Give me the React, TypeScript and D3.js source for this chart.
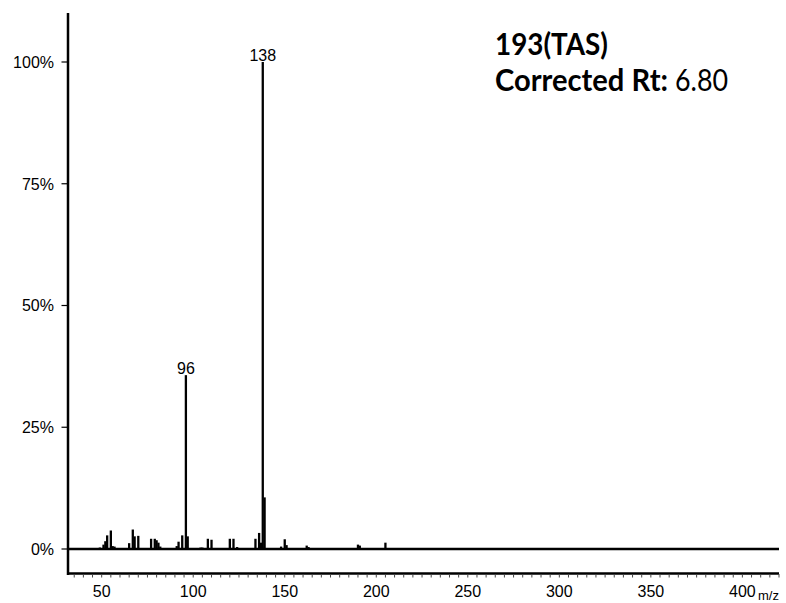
import React from "react";
import * as d3 from "d3";

// Mass spectrum of compound 193 (TAS): nominal m/z and relative intensity (%)
const MZ = [49, 51, 52, 53, 55, 56, 57, 65, 67, 68, 70, 77, 79, 80, 81, 82, 91, 92, 94, 96, 97, 104, 105, 108, 110, 120, 122, 124, 134, 136, 137, 138, 139, 148, 150, 151, 162, 163, 178, 179, 190, 191, 197, 205];
const INTENSITY = [0.3, 0.9, 1.6, 2.8, 3.8, 0.6, 0.5, 1.2, 4.0, 2.6, 2.7, 2.1, 2.1, 1.8, 1.3, 0.5, 0.6, 1.5, 2.8, 35.7, 2.6, 0.3, 0.3, 2.1, 1.9, 2.1, 2.1, 0.4, 2.1, 3.3, 1.3, 100, 10.6, 0.5, 2.0, 0.8, 0.7, 0.4, 0.2, 0.2, 0.9, 0.7, 0.2, 1.3];
const LABELED_PEAKS = [96, 138];

const X_TICKS = [50, 100, 150, 200, 250, 300, 350, 400];
const Y_TICKS = [0, 25, 50, 75, 100];
const Y_TICK_LABELS = ["0%", "25%", "50%", "75%", "100%"];

const TITLE = "193(TAS)";
const RT_LABEL = "Corrected Rt:";
const RT_VALUE = "6.80";

const W = 786;
const H = 603;

export default function App() {
  const x = d3.scaleLinear().domain([31.6, 420]).range([68, 779]);
  const y = d3.scaleLinear().domain([0, 100]).range([549, 62]);

  const peaks = MZ.map((m, i) => ({ mz: m, v: INTENSITY[i] }));
  const minorTicks = d3.range(35, 421, 5);
  const axisFont = "'Liberation Sans', Arial, sans-serif";
  const titleFont = "Lato, 'Open Sans', sans-serif";

  return (
    <svg
      width={W}
      height={H}
      style={{ position: "absolute", left: 0, top: 0, background: "#fff" }}
    >
      {/* spectrum bars */}
      {peaks.map((p) => (
        <line
          key={p.mz}
          x1={x(p.mz)}
          x2={x(p.mz)}
          y1={y(0)}
          y2={y(p.v)}
          stroke="#000"
          strokeWidth={2.3}
        />
      ))}

      {/* peak labels */}
      {peaks
        .filter((p) => LABELED_PEAKS.includes(p.mz))
        .map((p) => (
          <text
            key={"l" + p.mz}
            x={x(p.mz)}
            y={y(p.v) - 1.5}
            textAnchor="middle"
            fontFamily={axisFont}
            fontSize={16}
            fill="#000"
          >
            {p.mz}
          </text>
        ))}

      {/* zero baseline */}
      <line x1={68} x2={779} y1={y(0)} y2={y(0)} stroke="#000" strokeWidth={2.5} />

      {/* y axis */}
      <line x1={68} x2={68} y1={13} y2={575} stroke="#000" strokeWidth={2.5} />
      {Y_TICKS.map((t, i) => (
        <g key={"y" + t}>
          <line x1={61.5} x2={68} y1={y(t)} y2={y(t)} stroke="#000" strokeWidth={1.2} />
          <text
            x={54}
            y={y(t)}
            dy="0.36em"
            textAnchor="end"
            fontFamily={axisFont}
            fontSize={16}
            fill="#000"
          >
            {Y_TICK_LABELS[i]}
          </text>
        </g>
      ))}

      {/* x axis */}
      <line x1={67} x2={779} y1={573.5} y2={573.5} stroke="#000" strokeWidth={2.3} />
      {minorTicks.map((t) => (
        <line
          key={"m" + t}
          x1={x(t)}
          x2={x(t)}
          y1={574}
          y2={577.5}
          stroke="#444"
          strokeWidth={1}
        />
      ))}
      {X_TICKS.map((t) => (
        <text
          key={"x" + t}
          x={x(t)}
          y={597}
          textAnchor="middle"
          fontFamily={axisFont}
          fontSize={16}
          fill="#000"
        >
          {t}
        </text>
      ))}
      <text x={758} y={600} fontFamily={axisFont} fontSize={13} fill="#000">
        m/z
      </text>

      {/* compound annotation */}
      <text
        x={495}
        y={55}
        fontFamily={titleFont}
        fontWeight="bold"
        fontSize={30}
        textLength={113}
        lengthAdjust="spacingAndGlyphs"
        fill="#000"
      >
        {TITLE}
      </text>
      <text
        x={495}
        y={91}
        fontFamily={titleFont}
        fontWeight="bold"
        fontSize={30}
        textLength={173}
        lengthAdjust="spacingAndGlyphs"
        fill="#000"
      >
        {RT_LABEL}
      </text>
      <text
        x={675}
        y={91}
        fontFamily={titleFont}
        fontSize={30}
        textLength={53}
        lengthAdjust="spacingAndGlyphs"
        fill="#000"
      >
        {RT_VALUE}
      </text>
    </svg>
  );
}
